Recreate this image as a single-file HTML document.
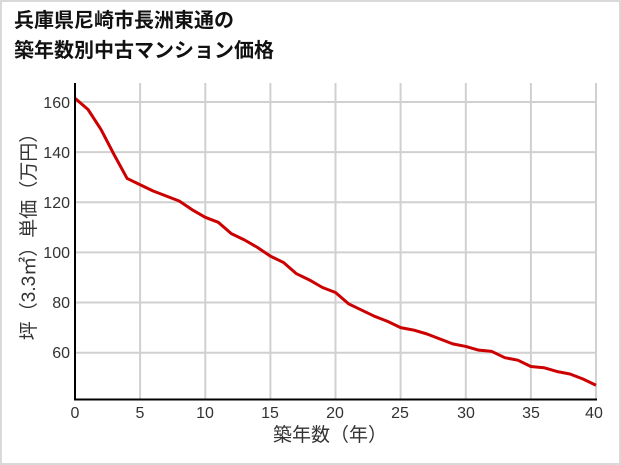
<!DOCTYPE html>
<html><head><meta charset="utf-8"><style>
body{margin:0;background:#fff}
.wrap{position:relative;width:617px;height:461px;border:2px solid #d9d9d9;overflow:hidden;font-family:"Liberation Sans","Noto Sans CJK JP",sans-serif}
.title{position:absolute;left:12px;top:4px;font-size:20px;font-weight:bold;line-height:30px;color:#111}
</style></head><body>
<div class="wrap">
<div class="title">兵庫県尼崎市長洲東通の<br>築年数別中古マンション価格</div>
<svg width="621" height="465" style="position:absolute;left:-2px;top:-2px" font-family="Liberation Sans, Noto Sans CJK JP, sans-serif">
<g stroke="#d0d0d0" stroke-width="2">
<line x1="75" y1="102" x2="596" y2="102"/><line x1="75" y1="152.1" x2="596" y2="152.1"/><line x1="75" y1="202.3" x2="596" y2="202.3"/><line x1="75" y1="252.4" x2="596" y2="252.4"/><line x1="75" y1="302.5" x2="596" y2="302.5"/><line x1="75" y1="352.7" x2="596" y2="352.7"/>
<line x1="140.1" y1="83" x2="140.1" y2="399"/><line x1="205.3" y1="83" x2="205.3" y2="399"/><line x1="270.4" y1="83" x2="270.4" y2="399"/><line x1="335.5" y1="83" x2="335.5" y2="399"/><line x1="400.6" y1="83" x2="400.6" y2="399"/><line x1="465.8" y1="83" x2="465.8" y2="399"/><line x1="530.9" y1="83" x2="530.9" y2="399"/><line x1="596" y1="83" x2="596" y2="399"/>
</g>
<g transform="translate(75,503.1) scale(13.025,-2.507)">
<polyline fill="none" stroke="#cc0000" stroke-width="3" vector-effect="non-scaling-stroke" stroke-linejoin="round" points="0,161.5 1,157 2,149 3,139 4,129.5 5,127 6,124.5 7,122.5 8,120.5 9,117 10,114 11,112 12,107.5 13,105 14,102 15,98.5 16,96 17,91.5 18,89 19,86 20,84 21,79.5 22,77 23,74.5 24,72.5 25,70 26,69 27,67.5 28,65.5 29,63.5 30,62.5 31,61 32,60.5 33,58 34,57 35,54.5 36,54 37,52.5 38,51.5 39,49.5 40,47"/>
</g>
<line x1="75" y1="83" x2="75" y2="400" stroke="#000" stroke-width="2"/>
<line x1="74" y1="399.5" x2="597" y2="399.5" stroke="#000" stroke-width="2"/>
<g font-size="16" fill="#333" text-anchor="end">
<text x="70" y="108">160</text><text x="70" y="158">140</text><text x="70" y="208">120</text><text x="70" y="258">100</text><text x="70" y="308">80</text><text x="70" y="358">60</text>
</g>
<g font-size="16" fill="#333" text-anchor="middle">
<text x="75" y="418">0</text><text x="140" y="418">5</text><text x="205" y="418">10</text><text x="270" y="418">15</text><text x="335" y="418">20</text><text x="400" y="418">25</text><text x="466" y="418">30</text><text x="531" y="418">35</text><text x="594" y="418">40</text>
</g>
<text x="330" y="441" font-size="19" fill="#333" text-anchor="middle">築年数（年）</text>
<text transform="translate(35,232) rotate(-90)" font-size="19" fill="#333" text-anchor="middle">坪（3.3㎡）単価（万円）</text>
</svg>
</div>
</body></html>
